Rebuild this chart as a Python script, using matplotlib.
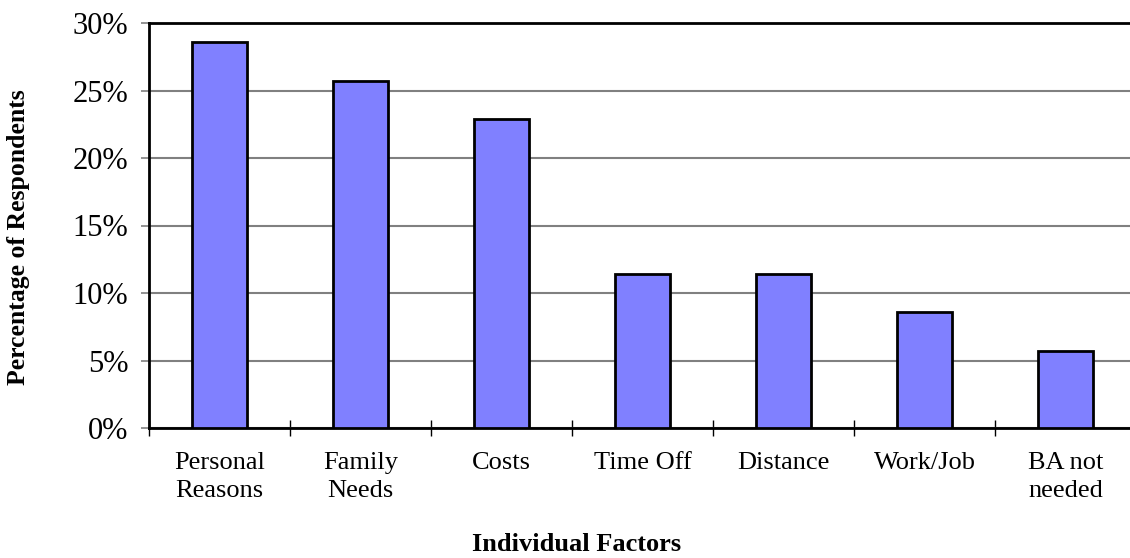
import numpy as np
import matplotlib.pyplot as plt
from matplotlib.ticker import FuncFormatter, FixedLocator

# survey results: share of respondents citing each factor
factors = ["Personal\nReasons", "Family\nNeeds", "Costs", "Time Off",
           "Distance", "Work/Job", "BA not\nneeded"]
percents = [28.6, 25.7, 22.9, 11.4, 11.4, 8.6, 5.7]
yticks = [0, 5, 10, 15, 20, 25, 30]

plt.rcParams["font.family"] = ["Liberation Serif", "DejaVu Serif"]

W, H = 1130, 558
fig = plt.figure(figsize=(W / 100, H / 100), dpi=100)
# plot area runs off the right edge, like the original sheet chart
ax = fig.add_axes([149 / W, 1 - 428 / H, 987 / W, 405 / H])

x = np.arange(len(factors))
ax.bar(x, percents, width=0.39, color="#8080ff", edgecolor="black",
       linewidth=2, zorder=3)

ax.set_xlim(-0.5, len(factors) - 0.5)
ax.set_ylim(0, 30)
ax.set_yticks(yticks)
ax.yaxis.set_major_formatter(FuncFormatter(lambda v, p: f"{v:.0f}%"))
ax.grid(axis="y", color="#808080", linewidth=1.5, zorder=0)

# category labels centered, ticks between categories
ax.set_xticks(x)
ax.set_xticklabels(factors, fontsize=19, linespacing=1.4)
ax.tick_params(axis="x", which="major", length=0, pad=17)
ax.xaxis.set_minor_locator(FixedLocator(np.arange(-0.5, len(factors), 1.0)))
ax.tick_params(axis="x", which="minor", direction="inout", length=11,
               width=1, color="black")
ax.tick_params(axis="y", direction="out", length=6, width=1.2,
               color="#808080", labelsize=22, pad=9)

for side in ["left", "bottom", "top"]:
    ax.spines[side].set_linewidth(2)
    ax.spines[side].set_color("black")
ax.spines["right"].set_visible(False)

fig.text(577 / W, 1 - 551 / H, "Individual Factors", fontsize=19,
         fontweight="bold", ha="center", va="baseline")
fig.text(19 / W, 1 - 237 / H, "Percentage of Respondents", fontsize=18.5,
         fontweight="bold", ha="center", va="center", rotation=90)

fig.savefig("out.png", dpi=100)
